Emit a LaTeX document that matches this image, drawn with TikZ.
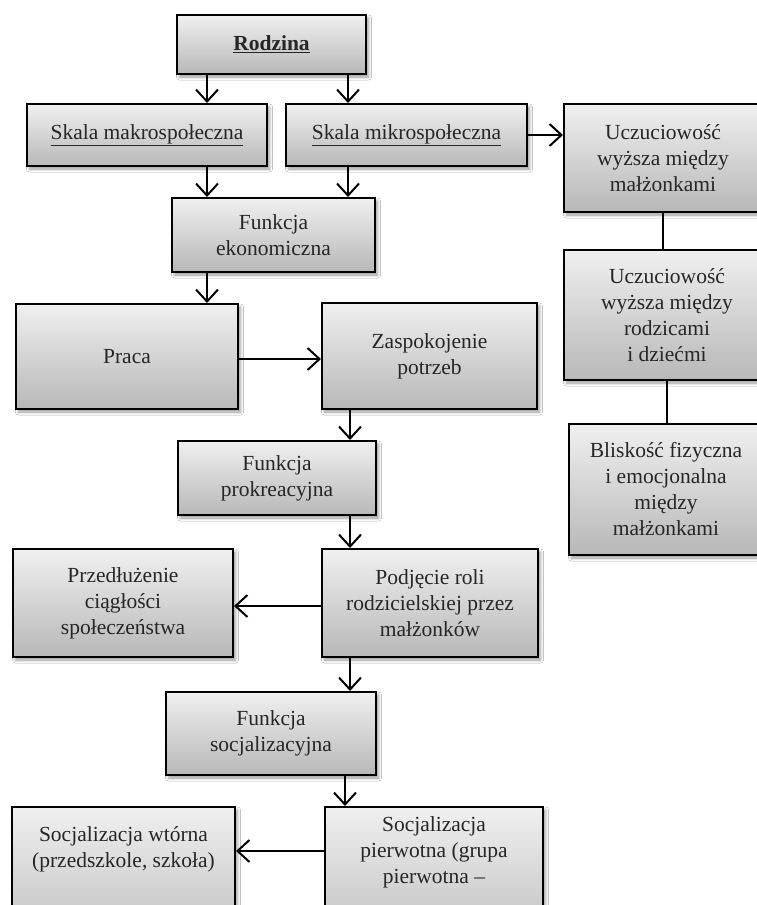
\documentclass[tikz,border=0pt]{standalone}
\usepackage{fontspec}
\setmainfont{Liberation Serif}
\newfontfamily\boxfont{Liberation Serif}
\usetikzlibrary{arrows.meta,shadows.blur}
\begin{document}
\begin{tikzpicture}[x=1pt,y=-1pt,
  box/.style={draw=black, line width=2pt, top color=black!6, bottom color=black!28,
    align=center, inner sep=0pt, text=black!85,
    font=\boxfont\fontsize{21.5}{26}\selectfont,
    blur shadow={shadow xshift=2.5pt, shadow yshift=-3pt, shadow blur radius=3pt, shadow opacity=40}},
  arr/.style={line width=2pt, -{Straight Barb[length=12pt,width=22pt,line width=2pt]}},
  link/.style={line width=2pt}]
\useasboundingbox (0,0) rectangle (757,905);
\clip (0,0) rectangle (757,905);
\fill[white] (0,0) rectangle (757,905);

% columns and rows used by the connectors
\coordinate (cA) at (207,0);
\coordinate (cB) at (348,0);
\coordinate (cC) at (350,0);
\coordinate (cD) at (345,0);
\coordinate (rA) at (0,851);
\coordinate (rB) at (0,359);
\coordinate (rC) at (0,606);

% boxes
\node[box, minimum width=189pt, minimum height=59pt] (rodzina) at (271.5,44.5) {\textbf{\underline{Rodzina}}};
\node[box, minimum width=240pt, minimum height=62pt] (makro) at (147,135) {\underline{Skala makrospołeczna}};
\node[box, minimum width=241pt, minimum height=62pt] (mikro) at (406.5,135) {\underline{Skala mikrospołeczna}};
\node[box, minimum width=198pt, minimum height=108pt] (ucz1) at (663,158) {Uczuciowość\\wyższa między\\małżonkami};
\node[box, minimum width=206pt, minimum height=130pt] (ucz2) at (667,315) {Uczuciowość\\wyższa między\\rodzicami\\i dziećmi};
\node[box, minimum width=194pt, minimum height=131pt] (blisk) at (666,489.5) {Bliskość fizyczna\\i emocjonalna\\między\\małżonkami};
\node[box, minimum width=203pt, minimum height=74pt] (ekon) at (273.5,235) {Funkcja\\ekonomiczna};
\node[box, minimum width=222pt, minimum height=105pt] (praca) at (127,356.5) {Praca};
\node[box, minimum width=215pt, minimum height=106pt] (zasp) at (429.5,356) {Zaspokojenie\\potrzeb};
\node[box, minimum width=198pt, minimum height=74pt] (prokr) at (277,478) {Funkcja\\prokreacyjna};
\node[box, minimum width=220pt, minimum height=108pt] (przed) at (123,603) {Przedłużenie\\ciągłości\\społeczeństwa};
\node[box, minimum width=216pt, minimum height=108pt] (podj) at (430,603) {Podjęcie roli\\rodzicielskiej przez\\małżonków};
\node[box, minimum width=210pt, minimum height=83pt] (socj) at (271,733.5) {Funkcja\\socjalizacyjna};
\node[box, anchor=north, minimum width=223pt, inner ysep=9pt] (wtorna) at (123.5,806)
  {\parbox[t][140pt][t]{215pt}{\centering\rule{0pt}{25pt}Socjalizacja wtórna\\(przedszkole, szkoła)}};
\node[box, anchor=north, minimum width=218pt, inner ysep=9pt] (pierw) at (434,806)
  {\parbox[t][140pt][t]{210pt}{\centering\rule{0pt}{15pt}Socjalizacja\\pierwotna (grupa\\pierwotna –}};

% connectors
\draw[arr] (cA |- rodzina.south) -- (cA |- makro.north);
\draw[arr] (cB |- rodzina.south) -- (cB |- mikro.north);
\draw[arr] (cA |- makro.south) -- (cA |- ekon.north);
\draw[arr] (cB |- mikro.south) -- (cB |- ekon.north);
\draw[arr] (mikro.east) -- (ucz1.west |- mikro.east);
\draw[link] (ucz1.south) -- (ucz1.south |- ucz2.north);
\draw[link] (ucz2.south) -- (ucz2.south |- blisk.north);
\draw[arr] (cA |- ekon.south) -- (cA |- praca.north);
\draw[arr] (rB -| praca.east) -- (rB -| zasp.west);
\draw[arr] (cC |- zasp.south) -- (cC |- prokr.north);
\draw[arr] (cC |- prokr.south) -- (cC |- podj.north);
\draw[arr] (rC -| podj.west) -- (rC -| przed.east);
\draw[arr] (cC |- podj.south) -- (cC |- socj.north);
\draw[arr] (cD |- socj.south) -- (cD |- pierw.north);
\draw[arr] (rA -| pierw.west) -- (rA -| wtorna.east);
\end{tikzpicture}
\end{document}
